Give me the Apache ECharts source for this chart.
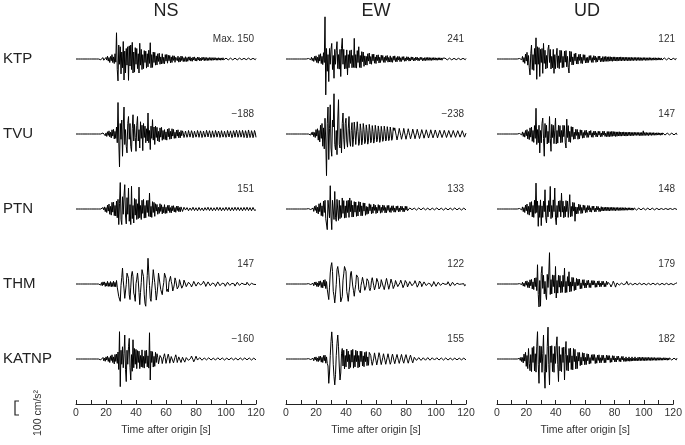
<!DOCTYPE html>
<html><head><meta charset="utf-8">
<script src="https://cdn.jsdelivr.net/npm/echarts@6/dist/echarts.min.js"></script>
<style>html,body{margin:0;padding:0;background:#fff}#c{width:685px;height:445px}</style>
</head><body><div id="c"></div>
<script>
// Column (component) titles and station names
const components = ['NS', 'EW', 'UD'];
const stations = ['KTP', 'TVU', 'PTN', 'THM', 'KATNP'];
// Peak amplitude labels [station][component]
const maxLabels = [
  ['Max. 150', '241', '121'],
  ['\u2212188', '\u2212238', '147'],
  ['151', '133', '148'],
  ['147', '122', '179'],
  ['\u2212160', '155', '182']
];
const tickLabels = [0, 20, 40, 60, 80, 100, 120];
const timeStep = 0.5; // s, sample spacing of the traces below (t = 0 .. 120)

// Accelerations (cm/s^2) at 0.5 s spacing
const NS_KTP = [0,0,0,0,0,0,0,0,0,0,0,0,0,0,0,0,0,0,0,0,0,0,0,0,0,0,0,0,0,0,0,0,
 2,-4,5,-3,8,-7,4,-12,9,-6,16,-12,8,-20,15,-10,25,-20,12,-26,30,-18,
 150,-60,-125,80,-30,70,-85,40,-50,100,-120,45,-80,60,-35,70,-122,75,-40,80,-60,95,-80,40,-75,65,
 -30,60,-55,30,-80,90,-35,55,-60,25,-55,48,-20,45,-52,30,-45,50,-25,93,-50,25,-48,40,-20,38,
 -35,18,-34,30,-14,33,-30,12,-28,30,-26,10,-27,25,-12,26,-24,22,-10,20,-22,12,-20,19,-8,18,-19,10,
 18,-10,16,-18,8,-16,17,-9,14,-15,7,-14,13,-15,8,-13,12,-7,13,-12,6,-13,11,-6,12,-11,5,-12,11,-6,10,-11,5,-10,10,-5,9,-10,
 9,-8,8,-9,7,-8,8,-7,8,-8,7,-7,8,-6,7,-7,6,-7,7,-6,
 6,-7,6,-6,7,-5,6,-6,5,-6,6,-5,6,-5,5,-6,5,-5,6,-4,
 5,-5,4,-5,5,-4,5,-5,4,-4,5,-4,4,-5,4,-4,4,-4,5,-4,
 4,-4,3,-4,4,-3,4,-4,3];
const NS_TVU = [0,0,0,0,0,0,0,0,0,0,0,0,0,0,0,0,0,0,0,0,0,0,0,0,0,0,0,0,0,0,0,0,0,0,
 3,-5,6,-4,9,-10,6,-14,13,-8,18,-16,10,-22,24,-12,26,-28,15,-25,
 40,-50,180,-40,-188,60,-30,80,-127,40,154,-60,25,-70,-108,60,100,-30,60,-70,
 -100,30,110,-40,55,-20,-99,50,100,-40,25,-80,70,-25,50,-95,60,-20,45,-50,
 30,-40,120,-50,20,-89,45,-25,82,-35,40,-60,
 45,-20,38,-40,15,-45,35,-18,38,-36,20,-30,25,-32,12,-35,28,-16,32,-30,15,-28,30,-12,26,-25,10,-24,22,-12,24,-22,10,-22,20,-10,
 18,5,-20,-4,17,8,-19,-6,20,3,-18,-7,19,6,-21,-5,16,9,-18,-4,
 20,5,-19,-8,18,4,-20,-6,17,7,-18,-5,21,6,-17,-8,19,4,-20,-6,
 18,7,-19,-5,20,6,-18,-7,17,5,-20,-4,19,8,-18,-6,16,5,-19,-7,
 20,4,-17,-6,18,7,-21,-5,19,6,-18,-8,22,5,-19,-6,20,7,-18,-5,
 21,6,-20,-7,19,5,-22,-6,23,4,-20,-7,19,6,-21,-5,20,7,-19];
const NS_PTN = [0,0,0,0,0,0,0,0,0,0,0,0,0,0,0,0,0,0,0,0,0,0,0,0,0,0,0,0,0,0,0,0,0,0,
 4,-6,8,-5,12,-15,8,-20,22,-12,28,-30,15,-35,38,-18,40,-38,20,-40,
 45,-50,55,-89,30,151,-60,-89,70,-30,75,139,-40,-85,65,-30,120,-70,25,-89,
 130,-55,20,-80,60,-35,55,-60,30,-55,125,-50,20,-60,50,-25,55,-52,20,-50,
 48,-20,50,-42,91,-45,15,-48,42,-20,38,-42,
 30,-12,26,-30,10,-25,30,-14,24,-28,12,-22,25,-26,10,-24,20,-10,22,-20,8,-22,18,-10,19,-17,8,-19,16,-9,17,-15,8,-16,
 12,4,-14,-8,10,13,-6,-14,8,12,-10,-12,6,14,-8,-12,10,11,-9,-13,
 7,13,-10,-11,9,12,-8,-13,6,11,-10,-12,8,13,-7,-11,10,12,-9,-12,
 8,11,-10,-12,7,13,-9,-11,10,12,-8,-10,9,12,-10,-11,7,12,-9,-10,
 10,11,-8,-12,9,10,-10,-11,8,12,-9,-10,10,11,-8,-12,9,10,-9,-11,
 8,12,-10,-10,9,11,-8,-11,10,10,-9,-11,8,11,-10,-10,9,11,-8,-10,-5];
const NS_THM = [0,0,0,0,0,0,0,0,0,0,0,0,0,0,0,0,0,0,0,0,0,0,0,0,0,0,0,0,0,0,0,0,
 4,-6,8,-10,12,-5,12,-14,6,-12,15,-14,7,-13,14,-16,8,-14,16,-15,9,-16,20,-18,
 -8,-72,-68,-99,-8,38,91,18,-28,-82,
 -89,-2,62,60,32,-62,-89,-18,52,72,
 42,-52,-68,-99,2,28,63,18,-48,-118,
 -48,8,82,91,42,-62,-112,-127,-28,48,
 147,68,-8,-82,-99,-28,18,82,91,8,
 -38,-92,-58,-12,62,72,52,-32,-38,-61,
 -18,8,62,63,32,-42,-30,-45,10,20,
 44,15,-5,-40,-25,-5,35,20,12,-28,
 -22,-12,25,20,14,-24,-16,-6,22,16,
 0,-15,-18,-8,10,18,12,-5,-17,-15,2,15,17,6,-12,-18,-8,10,16,12,
 -6,-17,-14,4,16,15,0,-14,-16,-6,12,17,8,-10,-16,-12,6,15,14,-2,
 -14,-16,-4,12,15,8,-10,-15,-10,5,14,13,0,-13,-14,-5,10,14,9,-8,
 -14,-12,4,13,12,0,-12,-13,-4,10,13,8,-8,-13,-10,5,12,11,-2,-12,
 -11,-3,10,12,6,-8,-12,-8,4,11,10,-2,-10,-10,-3];
const NS_KATNP = [0,0,0,0,0,0,0,0,0,0,0,0,0,0,0,0,0,0,0,0,0,0,0,0,0,0,0,0,0,0,0,0,
 3,-5,6,-3,9,-10,5,-13,12,-6,16,-14,8,-20,18,-9,24,-20,12,-28,26,-14,28,-25,
 40,-60,156,-158,50,-30,70,-50,30,137,-60,-129,50,-30,70,118,-50,-120,25,-70,110,-50,60,-30,55,-55,
 48,-20,45,-55,20,-45,52,-48,15,-52,48,-25,50,-45,18,-52,150,-120,45,-20,42,-46,15,-42,38,-20,
 30,10,-28,-25,20,28,5,-26,-22,15,30,8,-25,-20,12,28,10,-24,-18,14,25,6,-22,-20,10,24,8,-20,-18,12,22,5,-20,-16,10,20,6,-18,
 -12,8,18,12,-8,-18,-14,5,17,14,-4,-16,-15,3,16,13,-6,-17,-12,8,
 16,12,-7,-16,-12,6,15,13,-5,-15,-12,7,14,12,-6,-15,-11,5,14,12,
 -6,-14,-10,7,13,11,-5,-13,-11,6,13,10,-6,-13,-10,5,12,11,-5,-12,
 -10,6,12,10,-5,-12,-9,5,11,10,-6,-12,-9,6,11,9,-5,-11,-9,6,
 12,9,-5,-11,-8,6,11,8,-6,-11,-8,5,10,8,-5];

const EW_KTP = [0,0,0,0,0,0,0,0,0,0,0,0,0,0,0,0,0,0,0,0,0,0,0,0,0,0,0,0,0,0,
 3,-5,6,-4,10,-9,5,-14,15,-8,18,-20,10,-24,25,-12,30,-26,15,-32,36,-20,
 241,-205,
 60,-70,25,-129,60,-30,55,89,-60,20,-110,55,-30,50,99,-55,25,-58,55,-100,
 60,118,-30,55,-57,20,-55,52,-91,25,-50,48,-25,52,-50,20,-48,118,-50,25,
 -52,48,-20,70,-48,20,-50,42,-15,40,-42,18,
 -34,15,-35,30,-12,34,-28,14,-30,27,-10,28,-24,12,-26,23,-9,24,-23,10,-20,22,-8,20,-19,10,-20,18,-8,20,-18,9,-17,18,
 -18,8,-19,16,-7,18,-15,8,-16,15,-6,14,-15,7,-14,13,-6,14,-13,6,-12,13,-5,12,-12,6,-11,12,-5,11,-11,5,-10,11,-5,10,-10,5,-9,10,-4,9,-10,5,
 -9,8,-9,8,-8,9,-7,8,-8,7,-8,7,-7,8,-6,7,-7,6,-7,7,
 -6,7,-6,6,-7,5,6,-6,5,-6,6,-5,6,-5,5,-6,5,-5,5,-5,
 4,-5,5,-4,5,-5,4,-4,5,-4,4,-4,4,-5,4,-4,3];
const EW_TVU = [0,0,0,0,0,0,0,0,0,0,0,0,0,0,0,0,0,0,0,0,0,0,0,0,0,0,0,0,0,0,0,0,
 3,-6,8,-5,12,-15,8,-20,25,-12,30,-35,20,-45,50,-25,60,-70,35,-85,90,-40,
 -238,60,154,-146,30,167,-80,-127,80,40,230,-60,-90,20,-118,80,196,-60,-80,30,-108,60,120,-30,-85,60,90,-40,
 -75,30,100,-40,-70,20,65,-72,-30,68,20,-60,-50,70,15,-65,-45,58,20,-62,
 -35,60,25,-55,-40,52,20,-58,-35,55,20,-50,-38,48,15,-52,-30,50,18,-45,
 -30,46,15,-48,-28,44,12,-42,-30,45,15,-40,-28,42,12,-38,-25,40,12,-36,
 -22,36,
 20,35,25,-10,-34,-25,5,32,28,-8,-30,-22,6,32,26,-10,-30,-24,8,30,
 25,-8,-28,-24,5,28,24,-6,-27,-22,7,27,22,-8,-26,-20,6,25,22,-5,
 -24,-22,6,24,20,-6,-23,-20,5,24,21,-7,-22,-19,6,23,20,-5,-22,-18,
 7,21,19,-6,-20,-18,5,21,19,-5,-20,-17,6,20,18,-6,-19,-17,5,20,
 17,-6,-19,-16,6,19,17,-5,-18,-16,5,19,16,-5,-18,-15,5];
const EW_PTN = [0,0,0,0,0,0,0,0,0,0,0,0,0,0,0,0,0,0,0,0,0,0,0,0,0,0,0,0,0,0,
 2,-4,5,-3,8,-10,5,-14,15,-8,20,-22,10,-28,30,-15,35,-38,18,-42,45,-20,50,-55,
 -60,-118,50,60,-50,133,-40,-118,50,60,-60,100,-50,-70,55,60,-65,50,
 -55,20,-48,63,-25,48,-52,18,-50,47,-20,50,-48,63,-15,48,-46,22,-45,42,-18,40,-42,20,-40,42,-15,40,-39,18,-38,35,-12,34,-36,15,
 -30,12,-26,30,-10,25,-27,12,-24,28,-8,22,-26,10,-22,25,-9,21,-24,10,-20,23,-8,20,-22,9,-21,20,-8,21,-18,7,-20,18,-8,19,-18,6,-18,16,
 -7,18,-16,6,-15,17,-6,15,-16,5,-15,16,-6,15,
 -10,-15,-8,6,14,12,-4,-15,-12,5,15,11,-6,-14,-12,6,14,10,-5,-14,
 -10,6,13,11,-5,-13,-10,5,13,10,-6,-13,-9,5,12,10,-5,-12,-9,6,
 12,9,-5,-12,-9,5,12,9,-6,-11,-9,5,11,9,-5,-11,-8,5,11,8,
 -5,-11,-8,6,10,8,-5,-10,-8,5,10,8,-6,-10,-7,5,10,8,-5];
const EW_THM = [0,0,0,0,0,0,0,0,0,0,0,0,0,0,0,0,0,0,0,0,0,0,0,0,0,0,0,0,0,0,
 2,-4,5,-3,7,-8,4,-10,11,-5,12,-14,6,-16,16,-8,18,-20,9,-22,22,-12,25,-26,14,-30,
 -28,-89,-18,63,102,122,72,-42,-68,-108,-58,-2,82,100,110,38,-28,-102,-108,-72,22,58,100,110,72,-42,-68,-99,-48,-12,57,72,67,-12,-38,-70,-33,-2,52,50,37,-32,-33,-50,-8,13,
 38,30,-5,-36,-38,-10,30,36,15,-25,-38,-20,20,36,28,-10,-34,-32,0,32,
 34,8,-28,-34,-12,25,34,18,-20,-32,-24,12,32,25,-8,-30,-28,4,28,28,
 -2,-26,
 -25,-5,20,24,10,-15,-23,-15,8,22,18,-4,-21,-20,0,20,21,5,-17,-20,
 -8,14,20,12,-10,-20,-14,6,19,16,-3,-18,-17,0,17,17,4,-15,-17,-7,
 12,17,10,-9,-16,-12,5,16,13,-2,-15,-14,0,14,14,3,-13,-14,-6,10,
 14,8,-8,-14,-10,5,14,11,-2,-13,-12,0,13,12,3,-12,-13,-5,10,13,
 7,-8,-13,-9,5,12,10,-2,-12,-11,0,11,11,2,-10,-12,-4];
const EW_KATNP = [0,0,0,0,0,0,0,0,0,0,0,0,0,0,0,0,0,0,0,0,0,0,0,0,0,0,0,0,0,0,
 2,-4,5,-3,7,-8,4,-10,10,-5,12,-13,6,-15,15,-8,17,-18,9,-20,20,-10,22,-24,12,-25,
 -40,-139,-80,20,100,155,90,-30,-100,-148,-90,20,90,137,70,-40,-120,-80,30,60,-40,50,
 -57,20,-45,57,-15,45,-57,25,-48,50,-18,55,-52,20,-45,50,-15,45,-50,20,-46,45,-15,44,-40,18,-44,38,-15,42,-38,12,-36,38,
 38,20,-15,-36,-30,5,35,28,-10,-34,-25,10,36,22,-12,-32,-26,8,30,24,
 -10,-30,-22,10,30,20,-12,-30,-18,12,28,20,-10,-27,-18,10,26,18,-10,-25,
 -16,10,26,16,-12,-24,-15,12,25,14,-10,-24,-14,10,22,15,-10,-22,
 -12,10,20,12,-8,-19,-12,8,19,11,-8,-18,-11,7,18,10,-7,-17,-11,8,
 16,10,-7,-16,-10,7,15,10,-6,-15,-10,7,15,9,-6,-14,-9,6,14,9,
 -6,-13,-9,6,13,8,-6,-13,-8,5,12,8,-5,-12,-8,5,12,7,-5,-11,
 -7,5,11,7,-5,-11,-7,5,10,7,-5];

const UD_KTP = [0,0,0,0,0,0,0,0,0,0,0,0,0,0,0,0,0,0,0,0,0,0,0,0,0,0,0,0,0,0,
 3,-6,8,-4,15,-18,8,-25,28,-12,38,-35,20,-50,
 -91,30,80,-60,25,-65,60,-30,121,-116,70,-30,65,-100,
 55,-20,60,-82,89,-25,50,-57,20,-52,57,80,-20,55,-57,15,-50,55,-82,25,
 -55,20,61,-50,18,-55,50,-20,48,-50,15,-48,45,-18,48,-45,15,-48,-80,45,
 -15,42,
 -34,12,-33,30,-10,34,-28,12,-29,26,-8,28,-25,10,-26,25,-8,24,-23,8,
 -22,10,-20,19,-7,20,-19,8,-20,19,-6,17,-19,8,-17,16,-6,17,-16,6,
 -15,14,-15,13,-14,15,-13,12,-14,13,-12,13,-12,11,-13,12,-11,12,-11,10,
 -12,11,-10,11,-10,12,-11,10,-9,10,-11,10,-9,10,-10,9,-10,9,-9,10,
 -9,8,-9,9,-8,9,-9,8,-8,9,-8,8,-9,7,-8,8,-7,8,-8,7,
 -8,7,-7,8,-7,7,-7,6,-7,7,-6,7,-7,6,-6,7,-6,6,-6,6,
 -6,5,-6,6,-5,6,-5,5,-6,5,-5,5,-5,5,-5,4,-5,5,-4,5,-4];
const UD_TVU = [0,0,0,0,0,0,0,0,0,0,0,0,0,0,0,0,0,0,0,0,0,0,0,0,0,0,0,0,0,0,
 3,-6,8,-5,12,-14,7,-18,20,-10,25,-28,14,-32,35,-18,40,-42,20,-48,48,-25,
 147,-60,25,-50,50,-108,20,-50,60,91,-25,-127,60,-20,50,-57,15,-50,100,-25,
 -99,55,-20,50,-55,18,91,-57,20,-52,50,-15,48,-50,20,-48,50,-15,48,-50,
 -80,85,-20,48,-45,15,-48,42,-15,40,
 -30,10,-29,27,-8,26,-30,10,-27,24,-8,22,-24,9,-22,20,-7,22,-20,8,
 -19,17,-6,20,-18,7,-19,16,-6,17,-16,7,-17,16,-6,15,-16,6,-15,16,
 -6,16,-14,5,-15,14,
 -15,14,-15,13,-14,15,-13,14,-12,13,-14,12,-13,12,-11,13,-12,11,-12,11,
 -10,12,-11,10,-12,10,-11,10,-9,11,-10,9,-10,9,-9,10,-8,9,-8,9,
 -8,9,-9,8,-10,9,-8,18,-9,8,-8,9,-8,7,-9,8,-7,8,-8,7,
 -7,8,-7,6,-7,7,-6,7,-6,6,-7,6,-6,6,-5,6,-6,5,-6,5,
 -5,6,-5,5,-5,5,-4,5,-5,4,-4,5,-4];
const UD_PTN = [0,0,0,0,0,0,0,0,0,0,0,0,0,0,0,0,0,0,0,0,0,0,0,0,0,0,0,0,0,0,
 3,-6,8,-5,12,-15,8,-20,22,-10,28,-30,15,-35,38,-18,42,-45,20,-48,50,-25,
 148,-20,45,-99,20,-48,52,-95,18,-48,45,-15,110,-50,-80,20,-45,48,-15,129,
 -55,20,-48,52,-15,120,-50,-90,20,-48,45,-15,48,-45,91,-18,45,-50,15,-45,
 48,-15,45,-48,12,82,-45,15,-42,38,-12,36,-70,12,
 -28,10,-27,28,-8,24,-26,9,-24,23,-7,20,-21,8,-19,20,-6,19,-17,7,-18,16,-6,17,-16,5,-16,16,-5,14,-15,5,-14,13,
 -11,10,-11,9,-10,11,-9,10,-10,9,-11,9,-9,10,-8,9,-9,8,-10,8,
 -8,9,-8,7,-9,8,-7,8,-8,7,-7,8,-7,6,-7,7,-6,7,-6,6,
 -7,6,-6,6,-5,6,-6,5,-6,5,-5,6,-5,5,-6,5,-5,5,-5,4,
 -5,5,-4,5,-5,4,-4,5,-4,4,-5,4,-4,4,-4,5,-4,4,-4,3,
 -4,4,-3,4,-4,3,-4,4,-3,3,-4,3,-3,4,-3,3,-3,3,-3,3,-3];
const UD_THM = [0,0,0,0,0,0,0,0,0,0,0,0,0,0,0,0,0,0,0,0,0,0,0,0,0,0,0,0,0,0,
 2,-5,6,-3,10,-12,5,-14,15,-7,18,-20,9,-22,24,-10,26,-28,12,-32,34,-15,36,-38,
 110,-60,-131,20,-127,60,100,-25,50,-57,15,-60,-89,55,-20,57,179,-60,25,-57,
 52,-15,50,-52,100,-80,20,-52,50,-18,48,-50,15,-48,50,-15,91,-50,15,-48,
 42,-12,70,-45,12,-42,38,-12,36,-38,10,-34,32,-10,
 28,-8,27,-28,6,-26,24,-8,25,-23,6,-22,20,-6,22,-20,5,-21,19,-6,
 20,-5,18,-19,5,-18,16,-5,18,-16,5,-15,16,-5,15,-16,4,-15,16,-4,
 10,18,12,-5,-17,-15,2,16,15,-4,-18,-12,6,17,12,-6,-16,-12,5,15,
 13,-4,-15,-13,3,15,12,-5,-14,-12,4,14,12,-5,-14,-10,4,13,11,-4,
 -13,-10,5,13,10,-4,-12,-10,4,12,10,-5,-12,-9,4,11,10,-4,-11,-9,
 5,11,9,-4,-11,-9,4,10,9,-5,-10,-8,4,10,8,-4,-10,-8,4,9,
 8,-4,-9,-8,3,9,8,-4,-9,-7,3,8,7];
const UD_KATNP = [0,0,0,0,0,0,0,0,0,0,0,0,0,0,0,0,0,0,0,0,0,0,0,0,0,0,0,0,0,0,
 4,-8,10,-15,8,-22,28,-12,38,-42,20,-55,60,-25,
 -67,25,-72,65,-20,72,-68,30,-75,70,156,-30,-139,75,-20,72,-76,30,137,-72,
 -167,25,-75,72,182,-30,-148,74,-20,76,-72,30,-76,72,-25,75,127,-30,-129,72,
 -68,25,-72,65,-20,68,-120,25,100,-65,20,-68,60,-20,62,-60,18,-62,60,-15,
 55,-57,15,-55,
 38,-12,37,-38,10,-34,36,-12,34,-33,9,-32,30,-10,28,-29,8,-25,24,-8,
 26,-9,25,-26,8,-24,22,-8,24,-22,7,-21,22,-8,21,-22,6,-21,22,-6,
 20,-6,19,-20,5,-18,19,-6,18,-17,5,-17,16,-5,17,-14,5,-16,14,-5,
 15,-14,4,-14,12,-13,4,-12,12,-13,4,-12,12,-11,4,-10,12,-10,4,-11,
 10,-9,10,-10,9,-9,10,-9,9,-10,8,-9,9,-8,9,-8,8,-9,8,-8,
 8,-7,8,-8,7,-8,7,-7,8,-7,7,-7,6,-7,7,-6,7,-6,6,-7,
 6,-6,6,-5,6,-6,5,-6,5,-5,5,-5,5];

const traces = [
  [NS_KTP, EW_KTP, UD_KTP],
  [NS_TVU, EW_TVU, UD_TVU],
  [NS_PTN, EW_PTN, UD_PTN],
  [NS_THM, EW_THM, UD_THM],
  [NS_KATNP, EW_KATNP, UD_KATNP]
];

// ---- layout (pixels) ----
const colLeft = [76, 286, 497];
const colWidth = 180;
const baseY = [59, 134, 209, 284, 359];
const rowHalf = 35;          // half height of a trace grid
const yHalfRange = 200;      // cm/s^2 mapped to rowHalf
const axisY = 404;
const FONT = '"Liberation Sans", Arial, Helvetica, sans-serif';

const grid = [], xAxis = [], yAxis = [], series = [], graphic = [];
let gi = 0;
for (let r = 0; r < stations.length; r++) {
  for (let c = 0; c < components.length; c++) {
    grid.push({left: colLeft[c], width: colWidth, top: baseY[r] - rowHalf, height: rowHalf * 2});
    xAxis.push({gridIndex: gi, type: 'value', min: 0, max: 120, show: false});
    yAxis.push({gridIndex: gi, type: 'value', min: -yHalfRange, max: yHalfRange, show: false});
    const arr = traces[r][c];
    series.push({
      type: 'line', xAxisIndex: gi, yAxisIndex: gi,
      data: arr.map((v, i) => [i * timeStep, v]),
      showSymbol: false, symbol: 'none', clip: false, silent: true,
      lineStyle: {color: '#000', width: 1.0}
    });
    gi++;
  }
}
// bottom time axes
for (let c = 0; c < components.length; c++) {
  grid.push({left: colLeft[c], width: colWidth, top: axisY - 30, height: 30});
  xAxis.push({
    gridIndex: gi, type: 'value', min: 0, max: 120, interval: 10, position: 'bottom',
    axisLine: {show: true, onZero: false, lineStyle: {color: '#222', width: 1}},
    axisTick: {show: true, inside: true, length: 4, lineStyle: {color: '#222', width: 1}},
    splitLine: {show: false},
    axisLabel: {
      color: '#333', fontSize: 10.5, fontFamily: FONT, margin: 4,
      formatter: v => tickLabels.includes(v) ? String(v) : ''
    },
    name: 'Time after origin [s]', nameLocation: 'middle', nameGap: 21,
    nameTextStyle: {color: '#333', fontSize: 10.5, fontFamily: FONT}
  });
  yAxis.push({gridIndex: gi, type: 'value', min: 0, max: 1, show: false});
  series.push({type: 'line', xAxisIndex: gi, yAxisIndex: gi, data: [], silent: true});
  gi++;
}

// texts
components.forEach((name, c) => {
  graphic.push({type: 'text', x: colLeft[c] + colWidth / 2, y: 11,
    style: {text: name, fill: '#222', font: '18px ' + FONT, align: 'center', verticalAlign: 'middle'}});
});
stations.forEach((name, r) => {
  graphic.push({type: 'text', x: 3, y: baseY[r],
    style: {text: name, fill: '#222', font: '15px ' + FONT, align: 'left', verticalAlign: 'middle'}});
  for (let c = 0; c < components.length; c++) {
    graphic.push({type: 'text', x: colLeft[c] + colWidth - 2, y: baseY[r] - 20,
      style: {text: maxLabels[r][c], fill: '#333', font: '10px ' + FONT, align: 'right', verticalAlign: 'middle'}});
  }
});
// amplitude scale bar
graphic.push({type: 'polyline', shape: {points: [[19, 401], [15, 401], [15, 415], [19, 415]]},
  style: {stroke: '#222', lineWidth: 1.2, fill: null}});
graphic.push({type: 'text', x: 38, y: 413, rotation: Math.PI / 2,
  style: {text: '100 cm/s\u00b2', fill: '#333', font: '10.5px ' + FONT, align: 'center', verticalAlign: 'middle'}});

const chart = echarts.init(document.getElementById('c'), null, {renderer: 'canvas'});
chart.setOption({animation: false, backgroundColor: '#fff', grid, xAxis, yAxis, series, graphic});
</script></body></html>
